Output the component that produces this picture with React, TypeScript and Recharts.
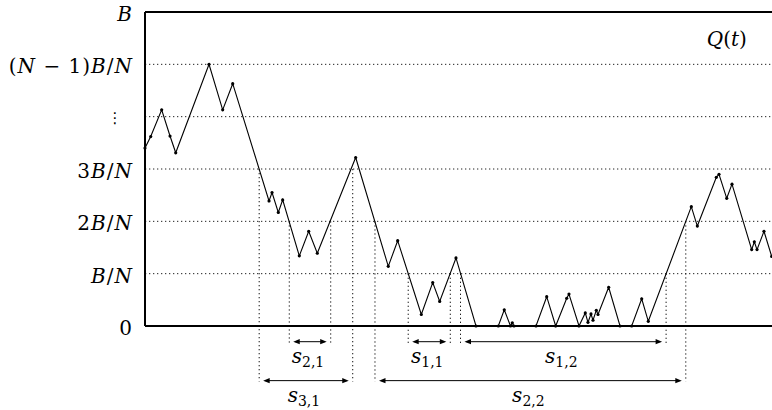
import React from 'react';
import { LineChart, Line, XAxis, YAxis, CartesianGrid, ReferenceLine, ReferenceDot } from 'recharts';

// ---- data ----
const times = [0, 0.91, 2.66, 3.99, 4.9, 10.21, 12.39, 13.99, 19.78, 20.26, 21.26, 21.96, 24.61, 26.11, 27.48, 33.6, 38.8, 40.3, 44.07, 45.89, 47.0, 49.6, 52.79, 56.35, 57.3, 58.29, 58.58, 58.85, 62.36, 64.07, 65.5, 67.26, 67.62, 69.22, 70.22, 70.65, 71.13, 71.45, 71.98, 72.25, 73.95, 75.76, 77.62, 79.22, 80.27, 87.13, 88.09, 91.12, 91.55, 92.78, 93.62, 96.76, 97.18, 97.61, 98.72, 99.95];
const queue = [3.4, 3.62, 4.13, 3.63, 3.31, 5.0, 4.13, 4.63, 2.39, 2.55, 2.17, 2.41, 1.34, 1.81, 1.39, 3.22, 1.14, 1.63, 0.22, 0.83, 0.47, 1.3, 0, 0, 0.31, 0, 0.06, 0, 0, 0.56, 0, 0.53, 0.61, 0, 0.25, 0.07, 0.23, 0.11, 0.3, 0.22, 0.74, 0, 0, 0.52, 0.09, 2.28, 1.91, 2.84, 2.9, 2.44, 2.71, 1.46, 1.61, 1.46, 1.81, 1.33];

const yTicks = [0, 1, 2, 3, 4, 5, 6];
const yTickLabels = ['0', 'B/N', '2B/N', '3B/N', '⋮', '(N − 1)B/N', 'B'];

// level crossings marked by dotted verticals
const crossTimes = [18.21, 23.01, 29.62, 33.13, 36.68, 41.98, 48.69, 50.32, 83.11, 86.25];
const crossLevels = [3, 2, 2, 3, 2, 1, 1, 1, 1, 2];
const crossRows = [2, 1, 1, 2, 2, 1, 1, 1, 1, 2];

// spans s_{i,j}
const spanSubs = ['2,1', '3,1', '1,1', '1,2', '2,2'];
const spanFrom = [1, 0, 5, 7, 4];
const spanTo = [2, 3, 6, 8, 9];
const spanRows = [1, 2, 1, 1, 2];

const seriesLabel = 'Q(t)';
const seriesLabelAt = { t: 89.6, q: 5.35 };

const data = times.map((t, i) => ({ t, q: queue[i] }));

// rows below the axis, in value units
const rowArrowLevel: Record<number, number> = { 1: -0.3, 2: -1.044 };
const rowLineEnd: Record<number, number> = { 1: -0.33, 2: -1.06 };

const FONT = '"DejaVu Serif", "Liberation Serif", serif';
const DOTS = '1.3 2.7';

const mathParts = (s: string) =>
  s.split('').map((c, i) => (
    <tspan key={i} fontStyle={/[A-Za-z]/.test(c) ? 'italic' : 'normal'}>
      {c}
    </tspan>
  ));

const YTick = (props: any) => {
  const { x, y, payload } = props;
  const label = yTickLabels[Math.round(payload.value)];
  if (label === '⋮') {
    return (
      <text x={x - 18} y={y} dy={6} textAnchor="middle" fontFamily='"DejaVu Sans", sans-serif' fontSize={15} fill="#000">
        ⋮
      </text>
    );
  }
  return (
    <text x={x} y={y} dy={9} textAnchor="end" fontFamily={FONT} fontSize={20} letterSpacing={1} fill="#000">
      {mathParts(label)}
    </text>
  );
};

const makeArrow = (sub: string) => (props: any) => {
  const { x1, y1, x2 } = props;
  const a = Math.min(x1, x2) + 4;
  const b = Math.max(x1, x2) - 4;
  const y = y1;
  const hl = 6.5;
  const hw = 2.6;
  const mid = (a + b) / 2 - 2;
  return (
    <g>
      <line x1={a + 2} y1={y} x2={b - 2} y2={y} stroke="#000" strokeWidth={1} />
      <polygon points={`${a},${y} ${a + hl},${y - hw} ${a + hl},${y + hw}`} fill="#000" />
      <polygon points={`${b},${y} ${b - hl},${y - hw} ${b - hl},${y + hw}`} fill="#000" />
      <text x={mid} y={y + 21} textAnchor="middle" fontFamily={FONT} fill="#000">
        <tspan fontStyle="italic" fontSize={20}>s</tspan>
        <tspan fontSize={14} dy={4}>{sub}</tspan>
      </text>
    </g>
  );
};

const LabelShape = (props: any) => {
  const { cx, cy } = props;
  return (
    <text x={cx} y={cy} textAnchor="start" fontFamily={FONT} fontSize={20} fill="#000">
      {mathParts(seriesLabel)}
    </text>
  );
};

export default function App() {
  return (
    <div style={{ position: 'absolute', left: 0, top: 0, width: 772, height: 410, background: '#fff' }}>
      <LineChart width={772} height={410} data={data} margin={{ top: 12, right: 0, bottom: 84, left: 0 }}>
        <CartesianGrid horizontal vertical={false} stroke="#222" strokeDasharray={DOTS} />
        <XAxis type="number" dataKey="t" domain={[0, 100]} hide />
        <YAxis
          type="number"
          domain={[0, 6]}
          ticks={yTicks}
          width={145}
          tickSize={0}
          tickMargin={12}
          tickLine={false}
          axisLine={{ stroke: '#000', strokeWidth: 2 }}
          tick={<YTick />}
          interval={0}
        />
        {crossTimes.map((t, i) => (
          <ReferenceLine
            key={`v${i}`}
            segment={[
              { x: t, y: crossLevels[i] },
              { x: t, y: rowLineEnd[crossRows[i]] },
            ]}
            ifOverflow="visible"
            stroke="#111"
            strokeWidth={1}
            strokeDasharray={DOTS}
          />
        ))}
        {spanSubs.map((sub, i) => (
          <ReferenceLine
            key={`s${i}`}
            segment={[
              { x: crossTimes[spanFrom[i]], y: rowArrowLevel[spanRows[i]] },
              { x: crossTimes[spanTo[i]], y: rowArrowLevel[spanRows[i]] },
            ]}
            ifOverflow="visible"
            shape={makeArrow(sub)}
          />
        ))}
        <ReferenceLine y={0} stroke="#000" strokeWidth={2} />
        <ReferenceLine y={6} stroke="#000" strokeWidth={2} />
        <Line
          type="linear"
          dataKey="q"
          stroke="#000"
          strokeWidth={1.1}
          dot={{ r: 1.6, fill: '#000', stroke: '#000', strokeWidth: 0 }}
          isAnimationActive={false}
        />
        <ReferenceDot x={seriesLabelAt.t} y={seriesLabelAt.q} r={0} ifOverflow="visible" shape={<LabelShape />} />
      </LineChart>
    </div>
  );
}
